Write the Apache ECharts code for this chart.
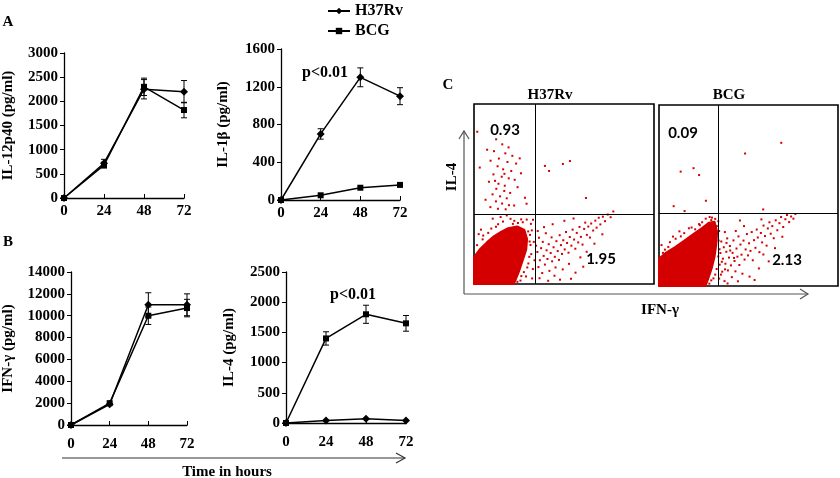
<!DOCTYPE html>
<html><head><meta charset="utf-8">
<script src="https://cdn.jsdelivr.net/npm/echarts@6/dist/echarts.min.js"></script>
<style>html,body{margin:0;padding:0;background:#fff}#c{width:840px;height:478px}</style>
</head><body><div id="c"></div>
<script>
// ---- Data ----
const hours = [0, 24, 48, 72];
const il12_h37 = [0, 720, 2250, 2200];
const il12_h37_err = [0, 80, 200, 230];
const il12_bcg = [0, 680, 2300, 1820];
const il12_bcg_err = [0, 60, 180, 160];
const il1b_h37 = [0, 700, 1300, 1100];
const il1b_h37_err = [0, 55, 100, 90];
const il1b_bcg = [0, 50, 130, 160];
const il1b_bcg_err = [0, 0, 0, 0];
const ifng_h37 = [0, 1900, 11000, 11000];
const ifng_h37_err = [0, 0, 1100, 1000];
const ifng_bcg = [0, 2000, 10000, 10700];
const ifng_bcg_err = [0, 0, 800, 800];
const il4_h37 = [0, 40, 70, 40];
const il4_h37_err = [0, 0, 0, 0];
const il4_bcg = [0, 1400, 1800, 1650];
const il4_bcg_err = [0, 110, 150, 130];

// Flow cytometry (display units 0-100): [IFN-γ, IL-4]
const h37_gate = [34, 39];
const h37_quadrants = ['0.93', '1.95'];
const h37_dense = [[0,0],[0,15],[3,19],[7,23],[11,26.5],[15,29],[19,31],[24,32],[28,30],[29.5,25],[29,19],[27,13],[25,7],[23,2],[22,0]];
const h37_dots = [[12.3,80.4],[15.7,77.6],[19.2,75.9],[11.1,73.8],[17.4,72.6],[21.3,71.2],[13.8,69.7],[9.2,68.5],[18.6,67.8],[23.4,66.9],[13.1,65.4],[16.2,63.7],[20.7,62.8],[26.1,61.5],[10.8,60.9],[15.4,59.6],[19.3,58.7],[22.6,57.9],[8.3,56.8],[13.6,55.7],[17.1,54.6],[24.2,53.8],[12.4,52.9],[16.8,51.7],[20.1,50.6],[10.3,49.8],[14.5,48.7],[18.2,47.6],[28.3,47.9],[6.4,46.8],[12.2,45.9],[15.6,44.7],[19.4,43.8],[22.3,43.6],[9.1,42.7],[13.3,41.8],[17.6,41.5],[3.2,64.7],[7.3,74.6],[25.4,69.8],[1.8,84.6],[29.2,44.6],[16.9,61.2],[11.7,57.3],
[39.4,65.6],[41.7,62.8],[49.4,66.7],[53.3,68.3],[62.2,47.8],
[34.5,21.3],[35.2,17.8],[35.8,9.4],[36.1,25.7],[36.6,13.2],[37.3,19.9],[37.9,6.1],[38.2,23.4],[38.7,15.6],[39.4,10.8],[39.9,28.2],[40.3,18.7],[40.8,13.9],[41.5,22.1],[41.9,7.3],[42.6,17.2],[43.1,25.9],[43.4,12.6],[44.2,20.4],[44.9,15.1],[45.3,9.2],[45.8,23.8],[46.5,18.3],[47.2,13.4],[47.6,27.1],[48.3,21.6],[48.9,16.7],[49.6,24.3],[50.4,19.2],[51.1,28.9],[51.7,22.8],[52.5,17.4],[53.2,26.1],[54.1,21.3],[54.8,30.2],[55.6,24.7],[56.3,19.6],[57.1,28.4],[57.9,23.1],[58.6,31.7],[59.4,26.2],[60.3,21.9],[61.2,30.6],[61.8,34.1],[62.7,27.3],[63.5,31.9],[64.4,25.8],[65.1,33.6],[66.2,29.7],[67.4,35.2],[68.1,31.3],[69.3,36.8],[70.2,33.1],[71.6,37.4],[72.8,34.9],[74.3,38.6],[75.9,37.1],[77.4,40.3],
[36.4,3.2],[41.2,1.8],[44.7,4.6],[49.3,8.1],[52.8,11.2],[56.4,6.3],[59.1,14.8],[62.6,17.9],[47.8,2.4],[38.9,31.6],[43.7,33.2],[50.2,35.1],[55.3,36.4],[35.4,29.4],[66.9,22.4],[71.3,27.6],[53.9,2.9],[60.7,9.6],
[31.6,33.4],[29.3,35.8],[26.2,35.9],[31.1,27.3],[31.4,21.7],[31.8,16.6],[30.2,11.4],[32.7,8.3],[28.9,4.2],[27.7,6.6],[25.8,1.9],[1.7,21.6],[4.8,24.8],[2.6,27.7],[7.9,28.4],[12.2,31.8],[16.1,34.7],[20.3,36.2],[22.4,35.1],[27.1,34.3],[32.8,35.7],[18.2,38.1],[10.4,36.3],[30.1,29.2],[30.9,23.6],[24.4,33.9],[24.1,1.2],[26.3,4.4],[5.1,26.9],[9.6,30.8],[13.4,33.2],[30.7,15.1],[29.6,9.2],[33.2,23.4],[32.1,29.8],[3.9,30.2],[14.8,37.2],[21.6,33.4],[33.6,13.2],[32.3,3.1]];
const bcg_gate = [33, 40];
const bcg_quadrants = ['0.09', '2.13'];
const bcg_dense = [[0,0],[0,15],[4,18.5],[9,21.5],[14,25],[19,28.5],[24,32],[28,35],[31,35.5],[32.5,30],[32,23],[31,16],[29.5,10],[27.5,4],[26,0]];
const bcg_dots = [[12.1,63.2],[19.3,65.1],[22.4,61.3],[26.2,47.1],[14.3,41.4],[48.1,73.2],[68.3,79.1],[58.2,42.3],[8.2,44.1],
[33.6,4.1],[33.9,11.8],[34.3,18.2],[34.8,24.6],[35.3,7.9],[35.7,15.1],[36.2,21.4],[36.6,2.7],[37.1,12.3],[37.6,18.9],[38.1,26.3],[38.5,8.6],[39.1,15.7],[39.6,22.1],[40.2,11.4],[40.7,4.9],[41.1,18.3],[41.6,25.2],[42.2,13.8],[42.7,8.1],[43.3,20.7],[43.8,16.2],[44.4,27.4],[44.9,11.6],[45.5,22.9],[46.1,17.3],[46.6,6.8],[47.2,25.1],[47.8,14.6],[48.4,20.2],[49.1,28.7],[49.7,16.9],[50.3,23.6],[51.1,19.4],[51.8,29.8],[52.4,14.2],[53.1,25.3],[53.9,21.1],[54.6,31.2],[55.2,26.8],[56.1,18.7],[56.9,29.3],[57.6,24.1],[58.4,33.4],[59.2,27.6],[60.1,22.3],[60.8,31.8],[61.7,35.2],[62.4,28.9],[63.3,33.1],[64.1,26.4],[65.2,36.3],[66.1,30.8],[67.3,34.7],[68.2,38.1],[69.4,32.6],[70.6,36.9],[71.5,39.2],[72.7,35.3],[73.8,38.4],[75.1,37.2],[76.2,39.8],
[38.3,1.4],[44.1,2.6],[50.6,5.2],[55.8,9.7],[61.3,13.6],[47.5,33.1],[42.9,30.4],[36.8,29.8],[58.3,17.4],[64.8,20.9],[53.4,3.3],[68.9,27.2],[57.2,36.8],[45.2,36.2],[35.1,13.4],[36.9,9.2],[39.8,19.6],[41.9,15.5],[37.7,23.8],[34.6,6.3],
[29.2,36.4],[33.3,25.1],[33.1,16.3],[32.2,9.4],[30.4,4.2],[28.1,1.3],[12.2,27.4],[6.1,24.2],[3.3,20.1],[18.2,32.3],[24.1,35.2],[28.3,38.1],[33.6,30.4],[20.2,31.3],[14.1,29.2],[9.3,26.1],[2.2,18.3],[26.1,37.2],[31.4,37.1],[33.8,20.3],[32.3,33.1],[31.4,6.3],[29.2,3.1],[22.4,34.2],[5.2,21.6],[16.7,31.9],[22.8,33.6],[29.6,37.8],[33.1,35.8],[1.4,22.6],[7.8,27.3],[11.4,30.2]];

// ---- Build ----
const SERIF = "'Liberation Serif','Times New Roman',serif";
const SANS = "Lato,'Open Sans',sans-serif";
const RED = '#d40000';
const panels = [
  {name:'IL-12p40 (pg/ml)', grid:{left:61,top:53,width:123,height:145}, max:3000, interval:500, h:il12_h37, he:il12_h37_err, b:il12_bcg, be:il12_bcg_err, gap:48, lm:6},
  {name:'IL-1\u03b2 (pg/ml)', grid:{left:281,top:49,width:119,height:151}, max:1600, interval:400, h:il1b_h37, he:il1b_h37_err, b:il1b_bcg, be:il1b_bcg_err, gap:50, lm:6},
  {name:'IFN-\u03b3 (pg/ml)', grid:{left:67,top:272,width:120,height:153}, max:14000, interval:2000, h:ifng_h37, he:ifng_h37_err, b:ifng_bcg, be:ifng_bcg_err, gap:55, lm:12},
  {name:'IL-4 (pg/ml)', grid:{left:286,top:272,width:120,height:151}, max:2500, interval:500, h:il4_h37, he:il4_h37_err, b:il4_bcg, be:il4_bcg_err, gap:49, lm:12}
];
const grids = [], xAxes = [], yAxes = [], series = [];
const axLine = {lineStyle:{color:'#000', width:1.3}};
const lab = {color:'#000', fontFamily:SERIF, fontWeight:'bold', fontSize:15, formatter:(v)=>String(v)};
function errData(v, e){ const out=[]; hours.forEach((h,i)=>{ if(e[i]>0) out.push([h, v[i]-e[i], v[i]+e[i]]); }); return out; }
function errRender(params, api){
  const x=api.value(0), p1=api.coord([x, api.value(1)]), p2=api.coord([x, api.value(2)]), w=3;
  const st={stroke:'#000', lineWidth:1};
  return {type:'group', children:[
    {type:'line', shape:{x1:p1[0],y1:p1[1],x2:p2[0],y2:p2[1]}, style:st},
    {type:'line', shape:{x1:p1[0]-w,y1:p1[1],x2:p1[0]+w,y2:p1[1]}, style:st},
    {type:'line', shape:{x1:p2[0]-w,y1:p2[1],x2:p2[0]+w,y2:p2[1]}, style:st}]};
}
panels.forEach((p, i) => {
  grids.push(p.grid);
  xAxes.push({type:'value', gridIndex:i, min:0, max:72, interval:24, axisLine:axLine,
    axisTick:{inside:true, length:4, lineStyle:{color:'#000'}}, axisLabel:Object.assign({margin:p.lm}, lab), splitLine:{show:false}});
  yAxes.push({type:'value', gridIndex:i, min:0, max:p.max, interval:p.interval, axisLine:Object.assign({show:true}, axLine),
    axisTick:{show:true, length:4, lineStyle:{color:'#000'}}, axisLabel:Object.assign({margin:6}, lab), splitLine:{show:false},
    name:p.name, nameLocation:'middle', nameGap:p.gap, nameTextStyle:{color:'#000', fontFamily:SERIF, fontWeight:'bold', fontSize:15}});
  series.push({name:'H37Rv', type:'line', xAxisIndex:i, yAxisIndex:i, data:hours.map((h,k)=>[h,p.h[k]]),
    symbol:'diamond', symbolSize:8, lineStyle:{color:'#000', width:1.5}, itemStyle:{color:'#000'}, z:3});
  series.push({name:'BCG', type:'line', xAxisIndex:i, yAxisIndex:i, data:hours.map((h,k)=>[h,p.b[k]]),
    symbol:'rect', symbolSize:6, lineStyle:{color:'#000', width:1.5}, itemStyle:{color:'#000'}, z:3});
  series.push({type:'custom', xAxisIndex:i, yAxisIndex:i, data:errData(p.h,p.he), renderItem:errRender, encode:{x:0,y:[1,2]}, z:4, silent:true});
  series.push({type:'custom', xAxisIndex:i, yAxisIndex:i, data:errData(p.b,p.be), renderItem:errRender, encode:{x:0,y:[1,2]}, z:4, silent:true});
});
// flow panels
const flows = [
  {grid:{left:474,top:104,width:180,height:180}, dense:h37_dense, dots:h37_dots, gate:h37_gate},
  {grid:{left:659,top:105,width:179,height:181}, dense:bcg_dense, dots:bcg_dots, gate:bcg_gate}
];
flows.forEach((f, j) => {
  const gi = panels.length + j;
  grids.push(Object.assign({show:true, borderColor:'#000', borderWidth:1.6, backgroundColor:'transparent'}, f.grid));
  xAxes.push({type:'value', gridIndex:gi, min:0, max:100, show:false});
  yAxes.push({type:'value', gridIndex:gi, min:0, max:100, show:false});
  const poly = f.dense;
  series.push({type:'custom', xAxisIndex:gi, yAxisIndex:gi, data:poly, encode:{x:0,y:1}, silent:true,
    renderItem:(params, api) => {
      if (params.dataIndex !== 0) return null;
      return {type:'polygon', shape:{points:poly.map(p=>api.coord(p))}, style:{fill:RED, stroke:RED, lineWidth:2, lineJoin:'round'}};
    },
    markLine:{silent:true, symbol:['none','none'], label:{show:false}, lineStyle:{color:'#000', width:1, type:'solid'},
      data:[{xAxis:f.gate[0]},{yAxis:f.gate[1]}]}});
  series.push({type:'scatter', xAxisIndex:gi, yAxisIndex:gi, data:f.dots, symbol:'rect', symbolSize:2,
    itemStyle:{color:RED, opacity:1}, clip:true, silent:true});
});
const T = (text, x, y, opt) => Object.assign({type:'text', x, y, style:Object.assign({text, fill:'#000', font:'bold 15px '+SERIF, textAlign:'center', textVerticalAlign:'middle'}, (opt&&opt.style)||{})}, opt&&opt.el||{});
const arrowStyle = {stroke:'#555', lineWidth:1.2, fill:null};
const graphic = [
  T('A', 8, 22), T('B', 8, 242), T('C', 448, 85),
  T('p<0.01', 325, 73, {style:{font:'bold 16px '+SERIF}}),
  T('p<0.01', 353, 295, {style:{font:'bold 16px '+SERIF}}),
  T('Time in hours', 227, 472),
  {type:'polyline', shape:{points:[[62,458],[405,458]]}, style:{stroke:'#333', lineWidth:1.2}},
  {type:'polyline', shape:{points:[[396,453],[405,458],[396,463]]}, style:Object.assign({}, arrowStyle, {stroke:'#333'})},
  T('H37Rv', 550, 95),
  T('BCG', 729, 95),
  T('IL-4', 452, 177, {el:{rotation:Math.PI/2}}),
  T('IFN-\u03b3', 660, 310),
  {type:'polyline', shape:{points:[[464,294],[464,131]]}, style:{stroke:'#555', lineWidth:1.2}},
  {type:'polyline', shape:{points:[[459,139],[464,131],[469,139]]}, style:arrowStyle},
  {type:'polyline', shape:{points:[[464,294],[808,294]]}, style:{stroke:'#555', lineWidth:1.2}},
  {type:'polyline', shape:{points:[[800,289],[808,294],[800,299]]}, style:arrowStyle},
  T(h37_quadrants[0], 505, 130, {style:{font:'bold 15px '+SANS}}),
  T(h37_quadrants[1], 601, 259, {style:{font:'bold 15px '+SANS}}),
  T(bcg_quadrants[0], 683, 133, {style:{font:'bold 15px '+SANS}}),
  T(bcg_quadrants[1], 787, 260, {style:{font:'bold 15px '+SANS}})
];
const chart = echarts.init(document.getElementById('c'), null, {renderer:'canvas'});
chart.setOption({
  animation:false, backgroundColor:'#fff',
  legend:{data:['H37Rv','BCG'], orient:'vertical', left:322, top:-2, itemWidth:22, itemHeight:8, itemGap:4,
    textStyle:{color:'#000', fontFamily:SERIF, fontWeight:'bold', fontSize:16}, selectedMode:false},
  grid:grids, xAxis:xAxes, yAxis:yAxes, series, graphic
});
</script></body></html>
